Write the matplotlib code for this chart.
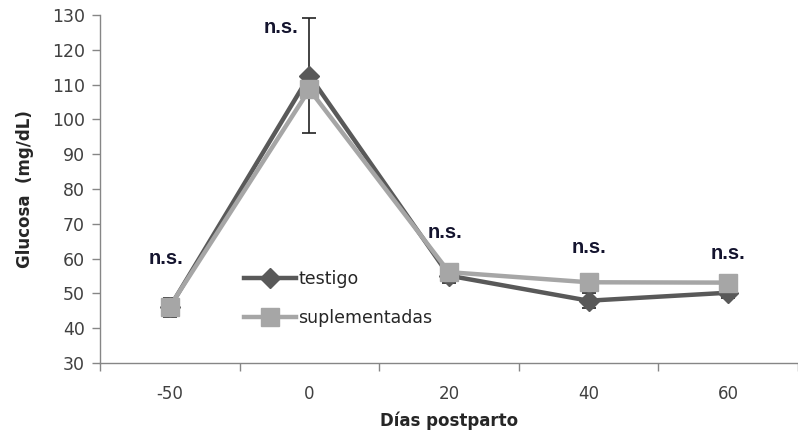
import matplotlib
matplotlib.use("Agg")
import matplotlib.pyplot as plt

categories = ["-50", "0", "20", "40", "60"]
testigo = [46.0, 112.6, 55.1, 47.9, 50.2]
testigo_err = [2.8, 16.5, 2.2, 2.2, 1.6]
suplementadas = [46.2, 108.6, 56.1, 53.2, 53.1]
sig_labels = ["n.s.", "n.s.", "n.s.", "n.s.", "n.s."]
sig_y = [60.0, 126.5, 67.5, 63.2, 61.5]
sig_dx = [-0.03, -0.2, -0.03, 0.0, 0.0]

plt.rcParams['font.family'] = ['DejaVu Sans']

fig = plt.figure(figsize=(7.98, 4.40), dpi=100)
ax = fig.add_axes([100/798, 77/440, 698/798, 348/440])

x = list(range(len(categories)))
ax.errorbar(x, testigo, yerr=testigo_err, fmt='none', ecolor='#222222',
            elinewidth=1.2, capsize=5, capthick=1.2, zorder=2)
ax.plot(x, testigo, color='#595959', lw=3.2, marker='D', markersize=10,
        markerfacecolor='#595959', markeredgecolor='#595959',
        label='testigo', zorder=3)
ax.plot(x, suplementadas, color='#A6A6A6', lw=3.2, marker='s', markersize=13,
        markerfacecolor='#A6A6A6', markeredgecolor='#A6A6A6',
        label='suplementadas', zorder=4)

for xi, (lab, yv, dx) in enumerate(zip(sig_labels, sig_y, sig_dx)):
    ax.text(xi + dx, yv, lab, ha='center', va='center', fontsize=14.5,
            fontweight='bold', color='#14142e', family=['Liberation Sans', 'DejaVu Sans'])

ax.set_ylim(30, 130)
ax.set_yticks(range(30, 131, 10))
ax.set_xlim(-0.5, -0.5 + 698/141)
ax.set_xticks(x)
ax.set_xticklabels(categories)
ax.set_xticks([i - 0.5 for i in range(len(categories) + 1)], minor=True)
ax.tick_params(axis='x', which='major', length=0, pad=16, labelsize=12, labelcolor='#404040')
ax.tick_params(axis='x', which='minor', length=6, color='#868686', width=1)
ax.tick_params(axis='y', length=6, color='#868686', width=1, labelsize=12.5, labelcolor='#404040', pad=5)

for s in ['top', 'right']:
    ax.spines[s].set_visible(False)
for s in ['left', 'bottom']:
    ax.spines[s].set_color('#868686')
    ax.spines[s].set_linewidth(1)

ax.set_ylabel('Glucosa  (mg/dL)', fontsize=12, fontweight='bold', color='#262626', labelpad=13)
ax.set_xlabel('Días postparto', fontsize=12, fontweight='bold', color='#262626', labelpad=6)

leg = ax.legend(loc='upper left', bbox_to_anchor=(0.196, 0.288), frameon=False,
                fontsize=12.5, handlelength=3.0, handletextpad=0.15, labelspacing=1.25,
                labelcolor='#262626', borderaxespad=0)

fig.savefig('out.png', dpi=100)
